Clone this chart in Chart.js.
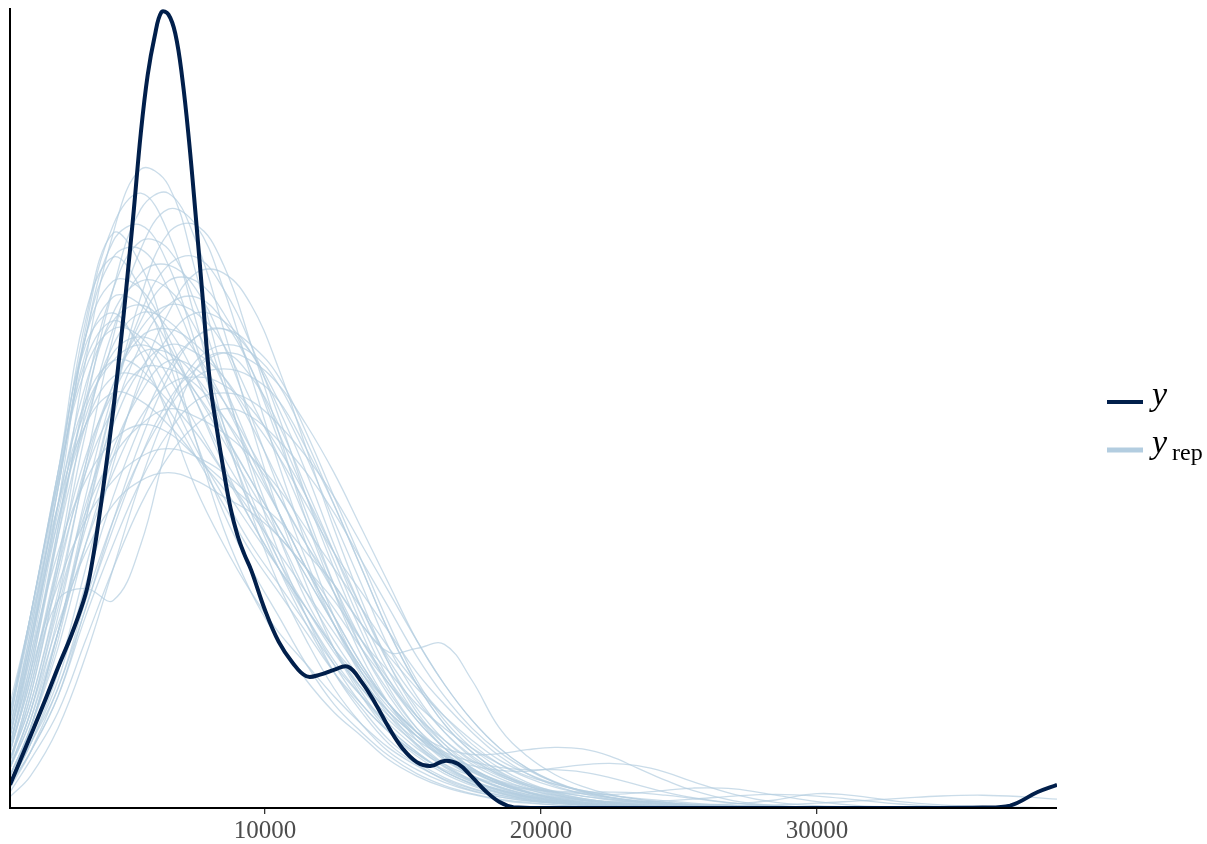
<!DOCTYPE html>
<html>
<head>
<meta charset="utf-8">
<title>Posterior predictive density overlay</title>
<script src="https://cdn.jsdelivr.net/npm/chart.js@4.4.1/dist/chart.umd.min.js"></script>
<style>
  html, body { margin: 0; padding: 0; background: #ffffff; }
  #wrap { width: 1207px; height: 844px; position: relative; }
</style>
</head>
<body>
<div id="wrap"><canvas id="DensChart" width="1207" height="844"></canvas></div>
<script>
// observed data density (y)
const yObsX = [761, 1500, 2000, 2500, 3000, 3500, 3750, 4000, 4250, 4500, 4750, 5000, 5250, 5500, 5750, 6000, 6250, 6500, 6750, 7000, 7250, 7500, 7750, 8000, 8250, 8500, 8750, 9000, 9250, 9500, 10000, 10500, 11000, 11500, 12000, 12500, 13000, 13500, 14000, 14500, 15000, 15500, 16000, 16500, 17000, 17500, 18000, 18500, 19000, 20000, 24000, 30000, 34000, 36000, 37000, 38000, 38700];
const yObs = [2.9, 9, 13.2, 17.6, 21.8, 26.8, 31, 36.6, 43, 49.8, 57.5, 66, 75, 84.5, 91.8, 96.6, 99.7, 99.4, 97, 91.5, 83.5, 73.8, 63.6, 53.5, 47.6, 42.3, 37.6, 34.2, 31.8, 29.8, 24.8, 20.8, 18.2, 16.5, 16.7, 17.3, 17.7, 15.8, 13.1, 10, 7.4, 5.75, 5.25, 5.9, 5.5, 3.9, 2.1, 0.75, 0.1, 0, 0, 0, 0, 0.05, 0.3, 2, 2.9];

// replicated draws (yrep), all on the same x grid
const repX = [761, 1500, 2500, 3500, 4500, 5500, 6500, 7500, 8500, 9500, 10500, 11500, 12500, 13500, 14500, 15500, 16500, 17500, 18500, 19500, 20500, 21500, 22500, 23500, 24500, 25500, 27000, 28500, 30000, 31500, 33000, 34500, 36000, 37500, 38700];

const rep1 = [7, 17, 35, 56, 72, 80, 78, 67, 54, 42, 32, 24, 17, 12, 8, 5.5, 3.5, 2.2, 1.4, 0.9, 0.6, 0.4, 0.2, 0.1, 0, 0, 0, 0, 0, 0, 0, 0, 0, 0, 0];
const rep2 = [9, 20, 38, 60, 73, 77, 72, 61, 48, 37, 28, 21, 15, 10.5, 7, 4.8, 3.2, 2.1, 1.4, 0.9, 0.6, 0.4, 0.2, 0.1, 0, 0, 0, 0, 0, 0, 0, 0, 0, 0, 0];
const rep3 = [6, 15, 31, 50, 65, 75, 77, 71, 60, 48, 37, 28, 20, 14, 9.5, 6.5, 4.3, 2.8, 1.8, 1.1, 0.7, 0.4, 0.2, 0.1, 0, 0, 0, 0, 0, 0, 0, 0, 0, 0, 0];
const rep4 = [5, 12, 26, 43, 59, 70, 75, 73, 65, 54, 43, 33, 24, 17, 12, 8, 5.3, 3.4, 2.2, 1.4, 0.9, 0.5, 0.3, 0.2, 0.1, 0, 0, 0, 0, 0, 0, 0, 0, 0, 0];
const rep5 = [4, 10, 21, 36, 51, 64, 72, 73, 68, 58, 47, 36, 27, 19, 13, 8.5, 5.5, 3.5, 2.2, 1.4, 0.9, 0.5, 0.3, 0.2, 0.1, 0, 0, 0, 0, 0, 0, 0, 0, 0, 0];
const rep6 = [11, 23, 41, 61, 72, 68, 58, 46, 35, 27, 21, 16, 12, 9, 6, 4, 2.6, 1.7, 1, 0.6, 0.4, 0.2, 0.1, 0, 0, 0, 0, 0, 0, 0, 0, 0, 0, 0, 0];
const rep7 = [3, 8, 17, 30, 43, 54, 62, 67, 67, 63, 55, 45, 35, 26, 18, 12, 8, 5, 3.2, 2, 1.2, 0.7, 0.4, 0.2, 0.1, 0, 0, 0, 0, 0, 0, 0, 0, 0, 0];
const rep8 = [10, 22, 40, 59, 71, 73, 68, 58, 47, 38, 30, 23, 17, 12.5, 8.5, 5.8, 3.8, 2.5, 1.6, 1, 0.6, 0.4, 0.2, 0.1, 0, 0, 0, 0, 0, 0, 0, 0, 0, 0, 0];
const rep9 = [7, 17, 34, 52, 65, 71, 70, 63, 53, 43, 34, 26, 20, 14.5, 10, 7, 4.6, 3, 1.9, 1.2, 0.7, 0.4, 0.2, 0.1, 0, 0, 0, 0, 0, 0, 0, 0, 0, 0, 0];
const rep10 = [4, 10, 22, 36, 49, 58, 63, 64, 61, 55, 47, 39, 31, 23, 16, 11, 7.5, 5, 3.2, 2, 1.2, 0.7, 0.4, 0.2, 0.1, 0, 0, 0, 0, 0, 0, 0, 0, 0, 0];
const rep11 = [11, 24, 42, 59, 66, 65, 59, 51, 43, 36, 30, 24, 18.5, 14, 10, 7, 4.6, 3, 1.9, 1.1, 0.7, 0.4, 0.2, 0.1, 0, 0, 0, 0, 0, 0, 0, 0, 0, 0, 0];
const rep12 = [8, 18, 34, 48, 58, 62, 61, 57, 51, 44, 37, 30, 24, 18, 13, 9, 6.2, 4.1, 2.7, 1.7, 1, 0.6, 0.3, 0.2, 0.1, 0, 0, 0, 0, 0, 0, 0, 0, 0, 0];
const rep13 = [6, 14, 29, 43, 53, 59, 60, 58, 54, 48, 41, 34, 27, 20, 14.5, 10, 7, 4.6, 3, 1.9, 1.2, 0.7, 0.4, 0.2, 0.1, 0, 0, 0, 0, 0, 0, 0, 0, 0, 0];
const rep14 = [9, 21, 38, 53, 61, 63, 60, 54, 47, 41, 35, 29, 23, 17, 12.5, 9, 6, 4, 2.6, 1.7, 1.1, 0.7, 0.5, 0.3, 0.2, 0.1, 0.1, 0, 0, 0, 0, 0, 0, 0, 0];
const rep15 = [3, 8, 16, 28, 39, 48, 55, 59, 60, 58, 54, 47, 39, 31, 23, 16, 11, 7.5, 5, 3.2, 2, 1.2, 0.7, 0.4, 0.2, 0.1, 0, 0, 0, 0, 0, 0, 0, 0, 0];
const rep16 = [5, 12, 25, 38, 48, 55, 58, 57, 54, 49, 44, 38, 32, 27, 22, 17, 13, 9.5, 6.5, 4.3, 2.8, 1.8, 1.1, 0.7, 0.4, 0.2, 0.1, 0, 0, 0, 0, 0, 0, 0, 0];
const rep17 = [12, 24, 41, 56, 61, 58, 52, 45, 39, 33, 28, 23, 18, 14, 10.5, 7.5, 5.2, 3.5, 2.3, 1.5, 1, 0.6, 0.4, 0.3, 0.2, 0.1, 0, 0, 0, 0, 0, 0, 0, 0, 0];
const rep18 = [8, 19, 36, 49, 57, 59, 57, 52, 46, 40, 34, 27, 21, 16, 12, 9, 7, 5.8, 5.1, 4.8, 4.8, 4.5, 3.8, 2.9, 2, 1.3, 0.6, 0.2, 0.1, 0, 0, 0, 0, 0, 0];
const rep19 = [4, 10, 22, 35, 45, 52, 56, 55, 51, 45, 39, 33, 28, 23, 19.5, 20, 20.5, 16, 10, 6.5, 4.2, 2.7, 1.7, 1.1, 0.7, 0.4, 0.2, 0.1, 0, 0, 0, 0, 0, 0, 0];
const rep20 = [7, 16, 30, 42, 50, 55, 55, 53, 49, 44, 39, 33, 27, 21, 16, 11.5, 8, 5.5, 3.7, 2.4, 1.5, 1, 0.6, 0.4, 0.2, 0.1, 0, 0, 0, 0, 0, 0, 0, 0, 0];
const rep21 = [5, 11, 22, 33, 42, 49, 53, 54, 53, 50, 45, 39, 32, 25, 18.5, 13.5, 9.5, 6.5, 4.3, 2.8, 1.8, 1.1, 0.7, 0.5, 0.3, 0.2, 0.1, 0, 0, 0, 0, 0, 0, 0, 0];
const rep22 = [10, 21, 36, 48, 54, 54, 51, 47, 42, 37, 32, 27, 22, 17, 13, 9.5, 6.8, 4.6, 3.1, 2, 1.3, 0.8, 0.5, 0.3, 0.2, 0.1, 0, 0, 0, 0, 0, 0, 0, 0, 0];
const rep23 = [3, 7, 14, 24, 33, 41, 47, 51, 52, 51, 48, 44, 39, 33, 27, 21, 15.5, 11, 7.5, 5, 3.3, 2.1, 1.3, 0.8, 0.5, 0.3, 0.1, 0, 0, 0, 0, 0, 0, 0, 0];
const rep24 = [6, 13, 26, 37, 44, 48, 50, 49, 47, 44, 40, 35, 30, 25, 20, 15.5, 11.5, 8, 5.5, 3.8, 2.6, 1.8, 1.3, 0.9, 0.6, 0.4, 0.2, 0.1, 0, 0, 0, 0, 0, 0, 0];
const rep25 = [5, 12, 23, 32, 38, 41, 42, 41, 39, 37, 34, 30, 26, 21, 17, 13, 10, 7.5, 5.5, 4, 3, 2.2, 1.6, 1.1, 0.7, 0.4, 0.2, 0.1, 0, 0, 0, 0, 0, 0, 0];
const rep26 = [5, 15, 26, 27.5, 26, 33, 46, 55, 57, 54, 48, 40, 32, 24, 17, 11.5, 7.5, 4.8, 3, 1.9, 1.1, 0.6, 0.4, 0.2, 0.1, 0, 0, 0, 0, 0, 0, 0, 0, 0, 0];
const rep27 = [12, 24, 42, 62, 69, 65, 56, 46, 37, 30, 24, 18, 13, 9.5, 6.5, 4.3, 2.8, 1.8, 1.1, 0.7, 0.4, 0.2, 0.1, 0, 0, 0, 0, 0, 0, 0, 0, 0, 0, 0, 0];
const rep28 = [6, 14, 30, 47, 60, 67, 68, 65, 58, 49, 40, 31, 23, 16.5, 11.5, 7.8, 5.1, 3.3, 2.1, 1.3, 0.8, 0.5, 0.3, 0.1, 0, 0, 0, 0, 0, 0, 0, 0, 0, 0, 0];
const rep29 = [5, 11, 24, 39, 52, 61, 66, 66, 62, 55, 46, 37, 28, 20, 14, 9.5, 6.2, 4, 2.5, 1.5, 0.9, 0.5, 0.3, 0.1, 0, 0, 0, 0, 0, 0, 0, 0, 0, 0, 0];
const rep30 = [10, 22, 40, 57, 64, 63, 58, 51, 44, 38, 31, 25, 19.5, 15, 11.5, 8.5, 6.5, 5.3, 4.7, 4.6, 5, 5.4, 5.6, 5.3, 4.5, 3.3, 1.7, 0.7, 0.3, 0.1, 0, 0, 0, 0, 0];
const rep31 = [4, 10, 20, 33, 44, 53, 59, 62, 61, 57, 50, 42, 33, 25, 18, 12.5, 8.5, 5.8, 4, 2.8, 2, 1.5, 1.1, 0.9, 0.7, 0.5, 0.3, 0.2, 0.1, 0, 0, 0, 0, 0, 0];
const rep32 = [8, 18, 35, 51, 62, 66, 65, 60, 53, 45, 37, 30, 23, 17.5, 13, 9.5, 6.6, 4.5, 3, 2, 1.3, 0.9, 0.7, 0.6, 0.5, 0.4, 0.5, 1, 1.8, 1.5, 0.8, 0.4, 0.2, 0.1, 0];
const rep33 = [9, 21, 40, 59, 69, 70, 65, 57, 48, 39, 31, 24, 18, 13, 9.5, 6.8, 4.6, 3.1, 2, 1.3, 0.8, 0.5, 0.3, 0.2, 0.2, 0.2, 0.3, 0.4, 0.6, 0.9, 1.2, 1.5, 1.6, 1.4, 1.1];
const rep34 = [6, 13, 27, 42, 53, 60, 63, 62, 58, 51, 44, 36, 28, 21, 15.5, 11, 7.5, 5, 3.3, 2.1, 1.4, 1, 0.8, 0.8, 0.9, 1.1, 1.5, 1.7, 1.5, 1, 0.5, 0.2, 0.1, 0, 0];
const rep35 = [11, 24, 41, 55, 60, 59, 54, 48, 42, 36, 30, 25, 20, 15, 11, 8, 5.5, 4, 3, 2.4, 2.1, 2, 2, 1.9, 1.6, 1.2, 0.6, 0.3, 0.1, 0, 0, 0, 0, 0, 0];
const rep36 = [7, 16, 31, 44, 52, 57, 57, 54, 49, 43, 37, 30, 24, 18, 13, 9.5, 7.5, 6.7, 6.8, 7.3, 7.6, 7.4, 6.5, 5, 3.5, 2.2, 0.9, 0.3, 0.1, 0, 0, 0, 0, 0, 0];
const rep37 = [3, 8, 15, 26, 36, 44, 50, 54, 55, 54, 51, 45, 38, 30, 22, 15.5, 10.5, 7, 4.5, 2.8, 1.7, 1, 0.6, 0.4, 0.2, 0.1, 0, 0, 0, 0, 0, 0, 0, 0, 0];
const rep38 = [13, 24, 42, 58, 62, 57, 49, 40, 33, 27, 22, 18, 14, 10.5, 7.5, 5.3, 3.6, 2.4, 1.6, 1, 0.6, 0.4, 0.2, 0.1, 0, 0, 0, 0, 0, 0, 0, 0, 0, 0, 0];
const rep39 = [9, 19, 32, 41, 46, 48, 47, 44, 41, 38, 34, 30, 25, 20, 15.5, 11.5, 8.5, 6, 4.2, 3, 2.1, 1.5, 1, 0.7, 0.4, 0.2, 0.1, 0, 0, 0, 0, 0, 0, 0, 0];
const rep40 = [2, 6, 12, 21, 30, 38, 44, 48, 50, 49, 46, 42, 37, 31, 25, 19, 14, 10, 7, 4.8, 3.2, 2.1, 1.4, 0.9, 0.5, 0.3, 0.1, 0, 0, 0, 0, 0, 0, 0, 0];
const rep41 = [3, 7, 14, 25, 35, 44, 51, 55, 57, 56, 53, 48, 42, 35, 28, 21, 15.5, 11, 7.5, 5, 3.2, 2, 1.3, 0.8, 0.5, 0.3, 0.1, 0, 0, 0, 0, 0, 0, 0, 0];
const rep42 = [12, 23, 38, 48, 52, 51, 48, 44, 40, 35, 30, 25, 20, 16, 12, 9, 6.5, 4.7, 3.3, 2.3, 1.6, 1.1, 0.8, 0.5, 0.3, 0.2, 0.1, 0, 0, 0, 0, 0, 0, 0, 0];
const rep43 = [8, 17, 28, 36, 41, 44, 45, 44, 42, 39, 36, 32, 28, 23, 19, 15, 11.5, 8.5, 6, 4.3, 3, 2.2, 1.6, 1.2, 0.9, 0.6, 0.3, 0.1, 0, 0, 0, 0, 0, 0, 0];
const rep44 = [4, 10, 22, 37, 51, 62, 68, 69, 65, 58, 49, 39, 30, 22, 15, 10, 6.5, 4.1, 2.6, 1.6, 0.9, 0.5, 0.3, 0.1, 0, 0, 0, 0, 0, 0, 0, 0, 0, 0, 0];
const rep45 = [9, 20, 37, 50, 56, 58, 56, 52, 47, 41, 35, 29, 23, 17.5, 13, 9.5, 6.8, 4.8, 3.4, 2.5, 2, 1.8, 1.7, 1.9, 2.2, 2.5, 2.4, 1.6, 0.8, 0.3, 0.1, 0, 0, 0, 0];
const rep46 = [7, 20, 38, 51, 56, 55, 50, 44, 38, 32, 27, 22, 17, 13, 9.5, 6.8, 4.8, 3.3, 2.3, 1.5, 1, 0.7, 0.4, 0.3, 0.2, 0.1, 0, 0, 0, 0, 0, 0, 0, 0, 0];
const rep47 = [1.4, 4, 10, 19, 30, 41, 50, 56, 58, 57, 53, 46, 38, 30, 22, 15.5, 10.5, 7, 4.6, 3, 1.9, 1.2, 0.7, 0.4, 0.2, 0.1, 0, 0, 0, 0, 0, 0, 0, 0, 0];
const rep48 = [2.5, 7, 15, 25, 36, 46, 54, 59, 60, 57, 51, 44, 36, 28, 20, 14, 9.5, 6.3, 4.1, 2.6, 1.6, 1, 0.6, 0.4, 0.2, 0.1, 0, 0, 0, 0, 0, 0, 0, 0, 0];

const yrepDraws = [rep1, rep2, rep3, rep4, rep5, rep6, rep7, rep8, rep9, rep10, rep11, rep12,
    rep13, rep14, rep15, rep16, rep17, rep18, rep19, rep20, rep21, rep22, rep23, rep24,
    rep25, rep26, rep27, rep28, rep29, rep30, rep31, rep32, rep33, rep34, rep35, rep36,
    rep37, rep38, rep39, rep40, rep41, rep42, rep43, rep44, rep45, rep46, rep47, rep48];

const xTicks = [10000, 20000, 30000];
const xRange = [761, 38700];

const darkCol = "#011f4b";
const lightCol = "#b3cde0";
const serif = '"Liberation Serif", "Times New Roman", serif';

// datasets: observed first so it is painted on top
const datasets = [{
    label: 'y',
    data: yObsX.map((x, i) => ({ x: x, y: yObs[i] })),
    borderColor: darkCol,
    borderWidth: 4,
    pointRadius: 0,
    tension: 0.4,
    fill: false
}];

yrepDraws.forEach((vals, k) => {
    datasets.push({
        label: 'yrep ' + (k + 1),
        data: repX.map((x, i) => ({ x: x, y: vals[i] })),
        borderColor: 'rgba(179, 205, 224, 0.7)',
        borderWidth: 1.3,
        pointRadius: 0,
        tension: 0.4,
        fill: false
    });
});

// axis lines + legend with subscript, drawn by hand
const decorations = {
    id: 'decorations',
    afterDatasetsDraw(chart) {
        const { ctx, chartArea } = chart;
        ctx.save();
        ctx.strokeStyle = '#000';
        ctx.lineWidth = 2;
        ctx.lineCap = 'butt';
        ctx.beginPath();
        ctx.moveTo(chartArea.left, chartArea.top);
        ctx.lineTo(chartArea.left, chartArea.bottom + 1);
        ctx.moveTo(chartArea.left - 1, chartArea.bottom);
        ctx.lineTo(chartArea.right, chartArea.bottom);
        ctx.stroke();
        ctx.restore();
    },
    afterDraw(chart) {
        const ctx = chart.ctx;
        ctx.save();
        ctx.lineCap = 'butt';
        ctx.strokeStyle = darkCol;
        ctx.lineWidth = 4;
        ctx.beginPath();
        ctx.moveTo(1107, 402);
        ctx.lineTo(1143, 402);
        ctx.stroke();
        ctx.strokeStyle = lightCol;
        ctx.lineWidth = 5;
        ctx.beginPath();
        ctx.moveTo(1107, 450);
        ctx.lineTo(1143, 450);
        ctx.stroke();

        ctx.fillStyle = '#000';
        ctx.textBaseline = 'alphabetic';
        ctx.textAlign = 'left';
        ctx.font = 'italic 34px ' + serif;
        ctx.fillText('y', 1152, 405);
        ctx.fillText('y', 1152, 453);
        ctx.font = '24px ' + serif;
        ctx.fillText('rep', 1172, 460);
        ctx.restore();
    }
};

// config
const config = {
    type: 'line',
    data: { datasets },
    options: {
        responsive: false,
        animation: false,
        devicePixelRatio: 1,
        layout: { padding: { left: 10, right: 150, top: 8, bottom: 0 } },
        plugins: {
            legend: { display: false },
            tooltip: { enabled: false }
        },
        scales: {
            x: {
                type: 'linear',
                min: xRange[0],
                max: xRange[1],
                afterBuildTicks: (scale) => {
                    scale.ticks = xTicks.map(v => ({ value: v }));
                },
                afterFit: (scale) => {
                    scale.height = 36;
                },
                border: { display: false },
                grid: {
                    drawOnChartArea: false,
                    drawTicks: true,
                    tickLength: 6,
                    color: '#333333',
                    lineWidth: 1.3
                },
                ticks: {
                    padding: 2,
                    color: '#4d4d4d',
                    font: { family: serif, size: 25 },
                    maxRotation: 0,
                    autoSkip: false,
                    callback: (v) => String(v)
                }
            },
            y: {
                display: false,
                min: 0,
                max: 100.2
            }
        }
    },
    plugins: [decorations]
};

// render init block
const densChart = new Chart(
    document.getElementById('DensChart'),
    config
);
</script>
</body>
</html>
